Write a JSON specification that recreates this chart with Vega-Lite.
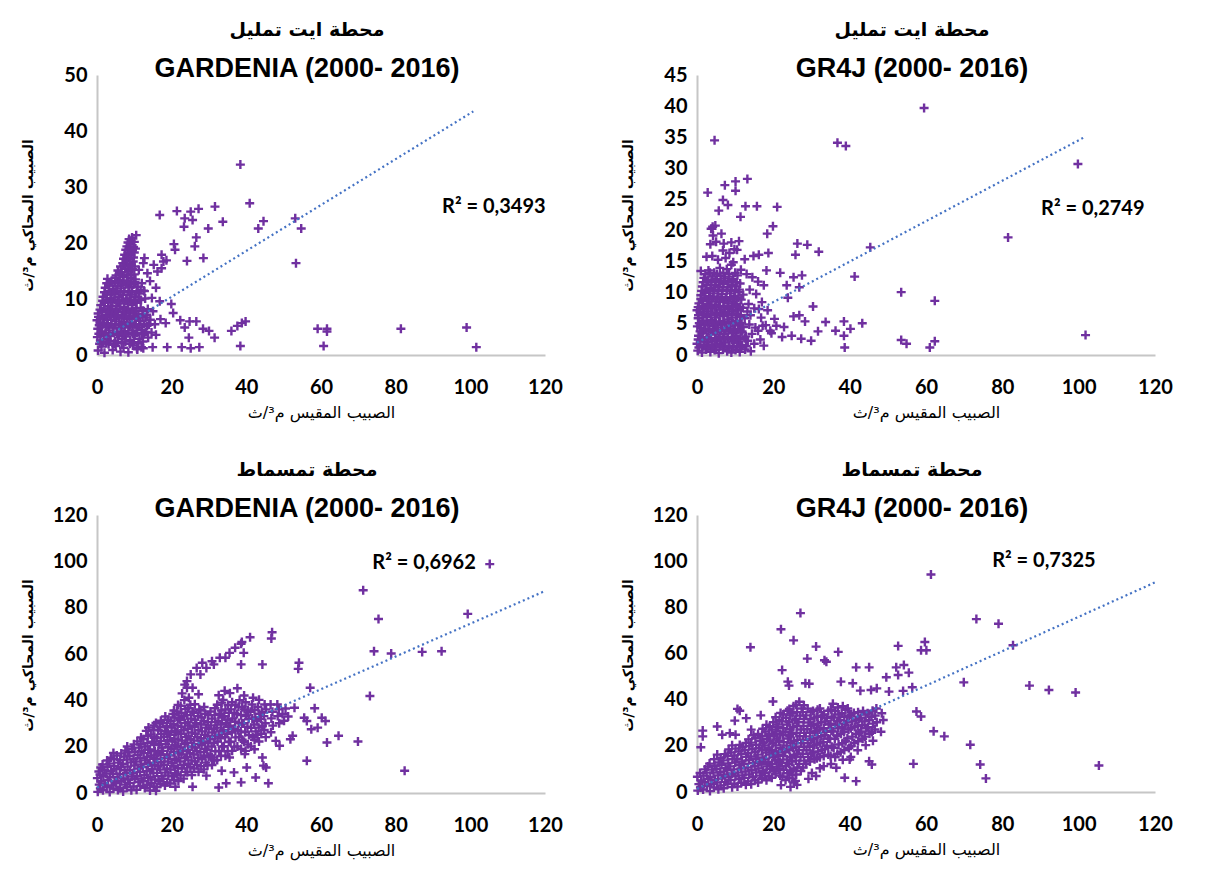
{
"$schema": "https://vega.github.io/schema/vega-lite/v6.json",
"background": "white",
"padding": {"left": 20, "top": 21, "right": 10, "bottom": 5},
"config": {
 "view": {"stroke": null},
 "axis": {"grid": false, "ticks": false, "domainColor": "#c6c6c6", "domainWidth": 2, "labelFont": "Lato", "labelFontSize": 20, "labelFontWeight": "bold", "labelColor": "#000", "labelOverlap": false, "labelFlush": false, "titleFont": "DejaVu Sans", "titleColor": "#000", "titleFontSize": 14},
 "axisX": {"labelPadding": 22, "titlePadding": 7, "titleFontWeight": "normal", "titleFontSize": 16},
 "axisY": {"labelPadding": 10, "titleFontWeight": "bold", "titleX": -62, "titleY": 140},
 "title": {"font": "DejaVu Sans", "fontSize": 19, "fontWeight": "bold", "color": "#000", "subtitleFont": "Liberation Sans", "subtitleFontSize": 27, "subtitleFontWeight": "bold", "subtitleColor": "#000", "subtitlePadding": 16, "offset": -17, "dx": -14}
},
"datasets": {
 "p1": [
  {"x":0.3,"y":0.8},{"x":1.2,"y":1.5},{"x":2.0,"y":0.4},{"x":3.1,"y":1.9},{"x":4.2,"y":0.9},{"x":5.0,"y":1.6},{"x":6.3,"y":0.6},{"x":7.1,"y":1.3},{"x":8.4,"y":0.5},{"x":9.6,"y":1.7},{"x":10.8,"y":1.0},{"x":11.9,"y":1.4},
  {"x":0.1,"y":3.2},{"x":0.9,"y":2.6},{"x":1.8,"y":3.5},{"x":2.7,"y":2.8},{"x":3.6,"y":3.4},{"x":4.8,"y":2.5},{"x":5.9,"y":3.6},{"x":6.8,"y":2.9},{"x":7.7,"y":3.3},{"x":8.9,"y":2.7},{"x":10.1,"y":3.5},{"x":11.4,"y":2.9},{"x":12.6,"y":3.8},{"x":13.7,"y":3.1},
  {"x":0.2,"y":4.7},{"x":1.1,"y":4.2},{"x":2.3,"y":5.0},{"x":3.2,"y":4.4},{"x":4.4,"y":4.9},{"x":5.3,"y":4.1},{"x":6.5,"y":4.8},{"x":7.4,"y":4.3},{"x":8.6,"y":5.1},{"x":9.5,"y":4.4},{"x":10.7,"y":4.9},{"x":12.0,"y":4.5},{"x":13.4,"y":5.2},{"x":14.6,"y":4.0},{"x":15.8,"y":3.6},
  {"x":0.0,"y":6.2},{"x":0.8,"y":5.8},{"x":1.9,"y":6.5},{"x":2.9,"y":5.7},{"x":3.8,"y":6.3},{"x":5.1,"y":6.0},{"x":6.0,"y":6.6},{"x":7.2,"y":5.9},{"x":8.1,"y":6.4},{"x":9.3,"y":5.8},{"x":10.4,"y":6.5},{"x":11.6,"y":6.1},{"x":13.0,"y":6.7},{"x":14.3,"y":6.3},{"x":15.5,"y":5.5},
  {"x":0.3,"y":7.4},{"x":1.4,"y":7.8},{"x":2.4,"y":7.2},{"x":3.5,"y":7.9},{"x":4.6,"y":7.3},{"x":5.6,"y":7.7},{"x":6.7,"y":7.1},{"x":7.8,"y":7.9},{"x":8.8,"y":7.4},{"x":9.9,"y":7.8},{"x":11.1,"y":7.3},{"x":12.3,"y":7.9},{"x":13.6,"y":8.2},
  {"x":1.0,"y":8.9},{"x":2.1,"y":9.3},{"x":3.0,"y":8.7},{"x":4.1,"y":9.4},{"x":5.2,"y":8.8},{"x":6.2,"y":9.2},{"x":7.3,"y":8.6},{"x":8.3,"y":9.5},{"x":9.4,"y":8.9},{"x":10.6,"y":9.3},{"x":11.8,"y":9.8},{"x":12.9,"y":10.1},
  {"x":1.6,"y":10.4},{"x":2.6,"y":10.8},{"x":3.7,"y":10.2},{"x":4.7,"y":10.9},{"x":5.8,"y":10.3},{"x":6.9,"y":10.7},{"x":7.9,"y":10.1},{"x":9.0,"y":10.8},{"x":10.2,"y":10.4},{"x":11.3,"y":11.0},{"x":12.5,"y":11.5},
  {"x":2.2,"y":12.0},{"x":3.3,"y":12.4},{"x":4.3,"y":11.8},{"x":5.5,"y":12.3},{"x":6.4,"y":11.9},{"x":7.6,"y":12.5},{"x":8.7,"y":12.1},{"x":9.8,"y":12.6},{"x":10.9,"y":12.2},{"x":12.0,"y":12.8},
  {"x":2.8,"y":13.6},{"x":3.9,"y":13.2},{"x":5.0,"y":13.8},{"x":6.1,"y":13.4},{"x":7.0,"y":13.9},{"x":8.2,"y":13.3},{"x":9.2,"y":13.7},{"x":10.3,"y":13.5},
  {"x":5.6,"y":15.1},{"x":6.6,"y":14.8},{"x":7.5,"y":15.4},{"x":8.5,"y":15.0},{"x":9.5,"y":15.3},
  {"x":6.9,"y":16.4},{"x":7.8,"y":16.8},{"x":8.8,"y":16.3},{"x":9.7,"y":16.7},
  {"x":7.4,"y":17.9},{"x":8.3,"y":18.2},{"x":9.1,"y":17.8},{"x":10.0,"y":18.3},
  {"x":8.0,"y":19.4},{"x":8.9,"y":19.8},{"x":9.8,"y":19.3},
  {"x":8.6,"y":20.7},{"x":9.4,"y":21.0},{"x":10.5,"y":21.4},
  {"x":0.7,"y":2.0},{"x":1.6,"y":2.3},{"x":2.5,"y":2.1},{"x":3.5,"y":2.4},{"x":4.6,"y":2.0},{"x":5.5,"y":2.3},{"x":6.6,"y":2.1},{"x":7.6,"y":2.4},{"x":8.8,"y":2.0},{"x":9.9,"y":2.3},{"x":11.1,"y":2.1},{"x":12.3,"y":2.4},
  {"x":0.5,"y":3.8},{"x":1.4,"y":4.0},{"x":2.4,"y":3.9},{"x":3.3,"y":3.7},{"x":4.3,"y":4.0},{"x":5.4,"y":3.8},{"x":6.4,"y":4.0},{"x":7.4,"y":3.7},{"x":8.4,"y":4.0},{"x":9.6,"y":3.8},{"x":10.7,"y":4.0},{"x":12.0,"y":3.8},{"x":13.1,"y":4.1},
  {"x":0.6,"y":5.3},{"x":1.5,"y":5.5},{"x":2.7,"y":5.3},{"x":3.8,"y":5.5},{"x":4.9,"y":5.3},{"x":5.9,"y":5.5},{"x":7.0,"y":5.3},{"x":8.0,"y":5.5},{"x":9.0,"y":5.3},{"x":10.1,"y":5.5},{"x":11.3,"y":5.3},{"x":12.6,"y":5.6},{"x":13.9,"y":5.4},
  {"x":0.4,"y":6.8},{"x":1.3,"y":7.0},{"x":2.4,"y":6.8},{"x":3.4,"y":7.0},{"x":4.5,"y":6.8},{"x":5.6,"y":7.0},{"x":6.6,"y":6.8},{"x":7.7,"y":7.0},{"x":8.7,"y":6.8},{"x":9.8,"y":7.0},{"x":11.0,"y":6.8},{"x":12.2,"y":7.0},{"x":13.3,"y":7.2},
  {"x":0.8,"y":8.1},{"x":1.9,"y":8.3},{"x":2.9,"y":8.1},{"x":4.0,"y":8.3},{"x":5.1,"y":8.1},{"x":6.2,"y":8.3},{"x":7.2,"y":8.1},{"x":8.3,"y":8.3},{"x":9.4,"y":8.1},{"x":10.5,"y":8.3},{"x":11.7,"y":8.4},
  {"x":1.5,"y":9.7},{"x":2.6,"y":9.9},{"x":3.6,"y":9.7},{"x":4.7,"y":9.9},{"x":5.7,"y":9.7},{"x":6.8,"y":9.9},{"x":7.8,"y":9.7},{"x":8.9,"y":9.9},{"x":10.0,"y":9.7},{"x":11.2,"y":9.9},
  {"x":2.0,"y":11.2},{"x":3.1,"y":11.4},{"x":4.1,"y":11.2},{"x":5.2,"y":11.4},{"x":6.3,"y":11.2},{"x":7.3,"y":11.4},{"x":8.4,"y":11.2},{"x":9.4,"y":11.4},{"x":10.6,"y":11.2},{"x":11.7,"y":11.6},
  {"x":2.6,"y":12.8},{"x":3.7,"y":13.0},{"x":4.8,"y":12.8},{"x":5.8,"y":13.0},{"x":6.9,"y":12.8},{"x":8.0,"y":13.0},{"x":9.1,"y":12.8},{"x":10.2,"y":13.0},
  {"x":5.1,"y":14.2},{"x":6.1,"y":14.4},{"x":7.1,"y":14.2},{"x":8.1,"y":14.4},{"x":9.1,"y":14.2},{"x":10.0,"y":14.4},
  {"x":6.3,"y":15.8},{"x":7.2,"y":16.0},{"x":8.2,"y":15.8},{"x":9.2,"y":16.0},{"x":10.1,"y":15.8},
  {"x":7.1,"y":17.2},{"x":8.0,"y":17.4},{"x":9.0,"y":17.2},{"x":9.8,"y":17.4},
  {"x":7.7,"y":18.8},{"x":8.6,"y":19.0},{"x":9.5,"y":18.8},{"x":10.3,"y":19.0},
  {"x":8.3,"y":20.1},{"x":9.1,"y":20.3},{"x":10.0,"y":20.2},
  {"x":12.7,"y":17.3},{"x":15.2,"y":16.1},{"x":17.3,"y":17.9},{"x":17.8,"y":16.7},{"x":16.2,"y":14.9},{"x":14.2,"y":13.2},{"x":12.7,"y":11.4},{"x":14.7,"y":10.2},{"x":15.8,"y":12.0},{"x":17.3,"y":15.5},{"x":18.6,"y":16.9},{"x":16.8,"y":9.6},{"x":13.5,"y":14.6},{"x":11.2,"y":15.2},{"x":15.0,"y":7.8},{"x":17.0,"y":6.4},{"x":12.4,"y":16.4},
  {"x":38.4,"y":34.0},{"x":40.9,"y":27.1},{"x":44.6,"y":23.9},{"x":43.2,"y":22.6},{"x":53.1,"y":24.4},{"x":54.7,"y":22.6},{"x":53.3,"y":16.4},{"x":16.8,"y":25.0},{"x":21.4,"y":25.7},{"x":25.1,"y":25.6},{"x":27.2,"y":26.1},{"x":31.6,"y":26.5},{"x":33.7,"y":23.8},{"x":23.5,"y":24.4},{"x":25.6,"y":24.1},{"x":23.3,"y":22.9},{"x":29.8,"y":22.6},{"x":26.6,"y":21.0},{"x":26.2,"y":19.4},{"x":20.6,"y":19.8},{"x":20.9,"y":18.8},{"x":24.1,"y":16.8},{"x":28.5,"y":17.3},{"x":19.9,"y":9.1},{"x":20.4,"y":7.5},{"x":22.3,"y":6.2},{"x":24.8,"y":6.0},{"x":26.6,"y":6.0},{"x":23.5,"y":4.9},{"x":28.4,"y":4.7},{"x":30.0,"y":4.3},{"x":31.5,"y":3.1},{"x":24.6,"y":3.1},{"x":18.4,"y":5.7},{"x":36.0,"y":4.3},{"x":37.6,"y":5.2},{"x":38.8,"y":5.7},{"x":39.8,"y":6.0},{"x":38.4,"y":1.6},{"x":14.9,"y":1.4},{"x":18.8,"y":1.4},{"x":22.7,"y":1.4},{"x":25.1,"y":1.2},{"x":27.4,"y":1.4},{"x":59.1,"y":4.7},{"x":61.6,"y":4.7},{"x":61.6,"y":4.2},{"x":60.7,"y":1.6},{"x":81.4,"y":4.7},{"x":99.0,"y":4.9},{"x":101.6,"y":1.4},{"x":10.7,"y":1.2},{"x":12.4,"y":1.2}
 ],
 "p2": [
  {"x":0.2,"y":0.7},{"x":1.3,"y":0.4},{"x":2.4,"y":0.9},{"x":3.5,"y":0.5},{"x":4.6,"y":0.8},{"x":5.7,"y":0.3},{"x":6.8,"y":0.9},{"x":7.9,"y":0.6},{"x":9.0,"y":0.4},{"x":10.1,"y":0.8},{"x":11.2,"y":0.5},{"x":12.6,"y":0.9},{"x":14.1,"y":0.6},
  {"x":0.0,"y":1.8},{"x":0.9,"y":2.2},{"x":2.0,"y":1.6},{"x":3.0,"y":2.1},{"x":4.1,"y":1.7},{"x":5.2,"y":2.3},{"x":6.3,"y":1.8},{"x":7.4,"y":2.0},{"x":8.5,"y":1.5},{"x":9.6,"y":2.2},{"x":10.7,"y":1.9},{"x":11.8,"y":1.6},{"x":13.3,"y":2.3},{"x":15.0,"y":1.8},{"x":16.6,"y":2.5},
  {"x":0.4,"y":3.1},{"x":1.5,"y":3.5},{"x":2.6,"y":2.9},{"x":3.7,"y":3.3},{"x":4.8,"y":3.6},{"x":5.9,"y":3.0},{"x":7.0,"y":3.4},{"x":8.1,"y":2.9},{"x":9.2,"y":3.5},{"x":10.3,"y":3.1},{"x":11.4,"y":3.6},{"x":12.8,"y":3.0},{"x":14.4,"y":3.4},{"x":16.0,"y":3.9},
  {"x":0.1,"y":4.6},{"x":1.1,"y":4.3},{"x":2.2,"y":4.8},{"x":3.3,"y":4.2},{"x":4.4,"y":4.7},{"x":5.5,"y":4.4},{"x":6.6,"y":4.9},{"x":7.7,"y":4.3},{"x":8.8,"y":4.6},{"x":9.9,"y":4.2},{"x":11.0,"y":4.8},{"x":12.2,"y":4.5},{"x":13.7,"y":4.9},{"x":15.3,"y":4.4},
  {"x":0.3,"y":5.9},{"x":1.4,"y":5.5},{"x":2.5,"y":6.1},{"x":3.6,"y":5.6},{"x":4.7,"y":6.0},{"x":5.8,"y":5.4},{"x":6.9,"y":6.2},{"x":8.0,"y":5.7},{"x":9.1,"y":6.0},{"x":10.2,"y":5.5},{"x":11.3,"y":6.1},{"x":12.5,"y":5.9},{"x":14.0,"y":6.4},
  {"x":0.0,"y":7.2},{"x":0.8,"y":6.9},{"x":1.9,"y":7.4},{"x":3.0,"y":7.0},{"x":4.1,"y":7.5},{"x":5.2,"y":6.8},{"x":6.3,"y":7.3},{"x":7.4,"y":6.9},{"x":8.5,"y":7.4},{"x":9.6,"y":7.0},{"x":10.7,"y":7.2},{"x":12.0,"y":7.6},{"x":13.2,"y":7.0},
  {"x":0.5,"y":8.3},{"x":1.6,"y":8.7},{"x":2.7,"y":8.2},{"x":3.8,"y":8.6},{"x":4.9,"y":8.1},{"x":6.0,"y":8.5},{"x":7.1,"y":8.8},{"x":8.2,"y":8.3},{"x":9.3,"y":8.6},{"x":10.4,"y":8.2},{"x":11.6,"y":8.9},
  {"x":1.0,"y":9.6},{"x":2.1,"y":10.0},{"x":3.2,"y":9.5},{"x":4.3,"y":9.9},{"x":5.4,"y":9.4},{"x":6.5,"y":9.8},{"x":7.6,"y":9.3},{"x":8.7,"y":9.9},{"x":9.8,"y":9.5},{"x":10.9,"y":10.1},{"x":12.1,"y":9.7},
  {"x":1.4,"y":11.0},{"x":2.5,"y":11.3},{"x":3.6,"y":10.8},{"x":4.7,"y":11.2},{"x":5.8,"y":10.9},{"x":6.9,"y":11.4},{"x":8.0,"y":10.9},{"x":9.1,"y":11.3},{"x":10.2,"y":11.0},{"x":11.3,"y":11.5},
  {"x":1.8,"y":12.4},{"x":2.9,"y":12.1},{"x":4.0,"y":12.6},{"x":5.1,"y":12.2},{"x":6.2,"y":12.7},{"x":7.3,"y":12.3},{"x":8.4,"y":12.6},{"x":9.5,"y":12.2},{"x":10.6,"y":12.8},
  {"x":0.5,"y":1.2},{"x":1.7,"y":1.4},{"x":2.8,"y":1.2},{"x":3.9,"y":1.4},{"x":5.0,"y":1.2},{"x":6.1,"y":1.4},{"x":7.2,"y":1.2},{"x":8.3,"y":1.4},{"x":9.4,"y":1.2},{"x":10.5,"y":1.4},{"x":11.6,"y":1.2},{"x":12.9,"y":1.4},
  {"x":0.3,"y":2.5},{"x":1.4,"y":2.7},{"x":2.5,"y":2.5},{"x":3.6,"y":2.7},{"x":4.7,"y":2.5},{"x":5.8,"y":2.7},{"x":6.9,"y":2.5},{"x":8.0,"y":2.7},{"x":9.1,"y":2.5},{"x":10.2,"y":2.7},{"x":11.3,"y":2.5},{"x":12.5,"y":2.7},
  {"x":0.8,"y":3.8},{"x":1.9,"y":4.0},{"x":3.0,"y":3.8},{"x":4.1,"y":4.0},{"x":5.2,"y":3.8},{"x":6.3,"y":4.0},{"x":7.4,"y":3.8},{"x":8.5,"y":4.0},{"x":9.6,"y":3.8},{"x":10.7,"y":4.0},{"x":11.8,"y":3.8},
  {"x":0.6,"y":5.1},{"x":1.7,"y":5.3},{"x":2.8,"y":5.1},{"x":3.9,"y":5.3},{"x":5.0,"y":5.1},{"x":6.1,"y":5.3},{"x":7.2,"y":5.1},{"x":8.3,"y":5.3},{"x":9.4,"y":5.1},{"x":10.5,"y":5.3},{"x":11.7,"y":5.1},
  {"x":0.4,"y":6.4},{"x":1.5,"y":6.6},{"x":2.6,"y":6.4},{"x":3.7,"y":6.6},{"x":4.8,"y":6.4},{"x":5.9,"y":6.6},{"x":7.0,"y":6.4},{"x":8.1,"y":6.6},{"x":9.2,"y":6.4},{"x":10.3,"y":6.6},{"x":11.5,"y":6.4},
  {"x":0.3,"y":7.7},{"x":1.4,"y":7.9},{"x":2.5,"y":7.7},{"x":3.6,"y":7.9},{"x":4.7,"y":7.7},{"x":5.8,"y":7.9},{"x":6.9,"y":7.7},{"x":8.0,"y":7.9},{"x":9.1,"y":7.7},{"x":10.2,"y":7.9},{"x":11.3,"y":7.7},
  {"x":1.0,"y":9.0},{"x":2.1,"y":9.2},{"x":3.2,"y":9.0},{"x":4.3,"y":9.2},{"x":5.4,"y":9.0},{"x":6.5,"y":9.2},{"x":7.6,"y":9.0},{"x":8.7,"y":9.2},{"x":9.8,"y":9.0},{"x":10.9,"y":9.2},
  {"x":1.2,"y":10.3},{"x":2.3,"y":10.5},{"x":3.4,"y":10.3},{"x":4.5,"y":10.5},{"x":5.6,"y":10.3},{"x":6.7,"y":10.5},{"x":7.8,"y":10.3},{"x":8.9,"y":10.5},{"x":10.0,"y":10.3},{"x":11.1,"y":10.5},
  {"x":1.6,"y":11.7},{"x":2.7,"y":11.9},{"x":3.8,"y":11.7},{"x":4.9,"y":11.9},{"x":6.0,"y":11.7},{"x":7.1,"y":11.9},{"x":8.2,"y":11.7},{"x":9.3,"y":11.9},{"x":10.4,"y":11.7},
  {"x":2.2,"y":13.0},{"x":3.4,"y":13.2},{"x":5.2,"y":13.0},{"x":6.9,"y":13.2},{"x":8.4,"y":13.0},{"x":10.0,"y":13.2},
  {"x":1.0,"y":13.5},{"x":3.0,"y":13.6},{"x":4.5,"y":13.2},{"x":6.0,"y":14.0},{"x":7.8,"y":13.8},{"x":9.0,"y":14.5},{"x":11.5,"y":13.7},{"x":2.5,"y":15.8},{"x":4.0,"y":15.9},{"x":5.5,"y":15.3},{"x":7.5,"y":15.6},{"x":9.5,"y":14.9},{"x":6.8,"y":16.8},{"x":8.5,"y":16.4},{"x":10.5,"y":16.9},{"x":3.5,"y":17.8},{"x":5.0,"y":18.2},{"x":7.0,"y":17.9},{"x":9.0,"y":18.1},{"x":11.0,"y":18.3},{"x":4.2,"y":19.2},{"x":6.4,"y":19.5},{"x":3.7,"y":20.3},{"x":4.8,"y":20.8},{"x":9.8,"y":17.0},{"x":12.5,"y":15.4},{"x":14.8,"y":15.9},{"x":16.2,"y":16.1},{"x":13.0,"y":13.0},{"x":14.5,"y":12.5},{"x":16.0,"y":11.8},{"x":17.5,"y":11.2},{"x":13.8,"y":10.5},{"x":15.5,"y":9.8},{"x":17.0,"y":8.5},{"x":18.5,"y":7.2},{"x":16.8,"y":6.0},{"x":18.0,"y":4.8},{"x":19.5,"y":3.5},{"x":17.5,"y":1.5},{"x":13.5,"y":8.2},{"x":15.0,"y":7.5},
  {"x":59.5,"y":39.7},{"x":4.6,"y":34.5},{"x":36.8,"y":34.1},{"x":39.0,"y":33.6},{"x":99.8,"y":30.7},{"x":13.2,"y":28.3},{"x":7.3,"y":27.3},{"x":10.1,"y":27.9},{"x":10.1,"y":26.4},{"x":2.8,"y":26.1},{"x":6.8,"y":24.9},{"x":8.1,"y":24.1},{"x":12.7,"y":23.9},{"x":15.7,"y":23.9},{"x":21.0,"y":23.8},{"x":5.7,"y":23.2},{"x":11.4,"y":22.2},{"x":19.9,"y":20.7},{"x":4.1,"y":20.6},{"x":18.4,"y":19.5},{"x":26.3,"y":17.9},{"x":28.9,"y":17.7},{"x":45.4,"y":17.3},{"x":31.9,"y":16.6},{"x":25.8,"y":16.1},{"x":81.5,"y":18.9},{"x":41.3,"y":12.6},{"x":53.5,"y":10.1},{"x":62.3,"y":8.7},{"x":101.8,"y":3.2},{"x":53.5,"y":2.4},{"x":54.9,"y":1.8},{"x":61.0,"y":1.2},{"x":62.3,"y":2.2},{"x":38.7,"y":1.2},{"x":30.4,"y":7.8},{"x":23.8,"y":9.2},{"x":23.5,"y":11.2},{"x":25.3,"y":12.5},{"x":27.5,"y":12.8},{"x":21.8,"y":13.2},{"x":18.2,"y":13.6},{"x":18.7,"y":16.4},{"x":26.8,"y":10.9},{"x":25.3,"y":6.2},{"x":26.8,"y":6.4},{"x":28.3,"y":5.4},{"x":33.7,"y":5.3},{"x":38.5,"y":5.4},{"x":43.3,"y":5.1},{"x":31.7,"y":3.8},{"x":36.3,"y":3.9},{"x":40.2,"y":4.2},{"x":38.5,"y":3.1},{"x":29.9,"y":2.3},{"x":27.3,"y":2.6},{"x":24.8,"y":3.1},{"x":22.3,"y":2.9},{"x":20.3,"y":5.8},{"x":20.8,"y":4.7},{"x":22.8,"y":4.5},{"x":17.2,"y":4.7},{"x":19.2,"y":3.9},{"x":16.2,"y":7.4}
 ],
 "p3": [
  {"x":0.2,"y":0.5},{"x":0.6,"y":3.6},{"x":0.1,"y":6.4},{"x":0.5,"y":9.3},
  {"x":1.6,"y":1.2},{"x":2.1,"y":4.1},{"x":1.7,"y":7.2},{"x":2.0,"y":9.8},{"x":1.5,"y":12.3},
  {"x":3.4,"y":0.4},{"x":3.9,"y":3.3},{"x":3.5,"y":6.8},{"x":3.8,"y":9.6},{"x":3.3,"y":12.7},{"x":3.7,"y":15.2},
  {"x":5.6,"y":1.3},{"x":5.1,"y":4.2},{"x":5.5,"y":6.9},{"x":5.2,"y":10.3},{"x":5.7,"y":13.1},{"x":5.3,"y":16.2},
  {"x":7.0,"y":0.7},{"x":7.5,"y":3.6},{"x":7.1,"y":6.3},{"x":7.4,"y":9.8},{"x":6.9,"y":12.6},{"x":7.3,"y":15.7},{"x":7.6,"y":18.3},
  {"x":9.2,"y":1.2},{"x":8.8,"y":4.3},{"x":9.3,"y":7.1},{"x":8.9,"y":9.8},{"x":9.1,"y":13.2},{"x":8.7,"y":16.1},{"x":9.4,"y":19.0},
  {"x":10.6,"y":1.4},{"x":11.1,"y":4.7},{"x":10.7,"y":7.3},{"x":11.0,"y":10.6},{"x":10.5,"y":13.6},{"x":10.9,"y":16.4},{"x":11.2,"y":19.6},{"x":10.8,"y":22.3},
  {"x":12.8,"y":2.2},{"x":12.4,"y":5.1},{"x":12.7,"y":7.8},{"x":12.3,"y":11.2},{"x":12.9,"y":14.1},{"x":12.5,"y":17.2},{"x":12.8,"y":20.1},{"x":12.4,"y":23.2},
  {"x":14.2,"y":1.1},{"x":14.6,"y":4.2},{"x":14.3,"y":6.8},{"x":14.7,"y":10.3},{"x":14.1,"y":13.1},{"x":14.5,"y":16.2},{"x":14.2,"y":18.8},{"x":14.8,"y":22.1},{"x":14.4,"y":25.2},{"x":13.8,"y":28.3},
  {"x":16.0,"y":2.6},{"x":16.5,"y":5.3},{"x":16.1,"y":8.7},{"x":16.4,"y":11.4},{"x":15.9,"y":14.6},{"x":16.3,"y":17.3},{"x":16.6,"y":20.7},{"x":16.0,"y":23.6},{"x":16.4,"y":27.1},{"x":15.8,"y":30.2},
  {"x":18.2,"y":3.2},{"x":17.8,"y":6.1},{"x":18.3,"y":8.8},{"x":17.9,"y":12.2},{"x":18.1,"y":15.1},{"x":17.7,"y":18.2},{"x":18.4,"y":21.1},{"x":17.9,"y":24.2},{"x":18.2,"y":26.8},{"x":17.6,"y":30.1},{"x":18.3,"y":33.0},
  {"x":19.6,"y":4.1},{"x":20.1,"y":7.2},{"x":19.7,"y":10.1},{"x":20.0,"y":12.8},{"x":19.5,"y":16.2},{"x":19.9,"y":19.1},{"x":20.2,"y":22.2},{"x":19.6,"y":25.1},{"x":20.0,"y":28.2},{"x":19.7,"y":31.1},{"x":20.3,"y":34.1},
  {"x":21.8,"y":5.2},{"x":21.4,"y":8.1},{"x":21.7,"y":10.8},{"x":21.3,"y":14.2},{"x":21.9,"y":17.1},{"x":21.5,"y":20.2},{"x":21.8,"y":23.1},{"x":21.2,"y":26.2},{"x":21.6,"y":29.1},{"x":21.9,"y":32.3},{"x":21.4,"y":35.2},{"x":21.7,"y":38.0},
  {"x":23.2,"y":6.2},{"x":23.7,"y":9.1},{"x":23.3,"y":12.2},{"x":23.6,"y":15.0},{"x":23.1,"y":18.2},{"x":23.5,"y":21.1},{"x":23.8,"y":24.2},{"x":23.2,"y":27.1},{"x":23.6,"y":30.2},{"x":23.3,"y":33.1},{"x":23.7,"y":36.2},{"x":23.4,"y":40.1},
  {"x":25.4,"y":7.8},{"x":25.0,"y":11.2},{"x":25.3,"y":14.1},{"x":24.9,"y":17.2},{"x":25.5,"y":20.1},{"x":25.1,"y":23.2},{"x":25.4,"y":26.1},{"x":24.8,"y":29.2},{"x":25.2,"y":32.1},{"x":25.6,"y":35.2},{"x":25.0,"y":38.1},
  {"x":27.2,"y":9.2},{"x":26.8,"y":12.1},{"x":27.1,"y":15.2},{"x":26.7,"y":18.1},{"x":27.3,"y":21.2},{"x":26.9,"y":24.1},{"x":27.2,"y":27.2},{"x":26.6,"y":30.1},{"x":27.0,"y":33.2},{"x":27.4,"y":36.1},
  {"x":28.6,"y":10.2},{"x":29.1,"y":13.1},{"x":28.7,"y":16.2},{"x":29.0,"y":19.1},{"x":28.5,"y":22.2},{"x":28.9,"y":25.1},{"x":29.2,"y":28.2},{"x":28.6,"y":31.1},{"x":29.0,"y":34.2},{"x":28.7,"y":37.1},
  {"x":30.8,"y":12.1},{"x":30.4,"y":16.2},{"x":30.7,"y":20.1},{"x":30.3,"y":23.2},{"x":30.9,"y":26.1},{"x":30.5,"y":29.2},{"x":30.8,"y":32.1},{"x":30.4,"y":35.2},
  {"x":32.2,"y":14.2},{"x":32.7,"y":18.1},{"x":32.3,"y":22.2},{"x":32.6,"y":25.1},{"x":32.1,"y":28.2},{"x":32.5,"y":31.1},{"x":32.8,"y":34.2},{"x":32.2,"y":38.1},{"x":32.6,"y":42.2},
  {"x":34.4,"y":16.1},{"x":34.0,"y":20.2},{"x":34.3,"y":24.1},{"x":33.9,"y":27.2},{"x":34.5,"y":30.1},{"x":34.1,"y":33.2},{"x":34.4,"y":36.1},{"x":33.8,"y":40.2},{"x":34.2,"y":44.1},
  {"x":36.2,"y":18.2},{"x":35.8,"y":22.1},{"x":36.1,"y":26.2},{"x":35.7,"y":29.1},{"x":36.3,"y":32.2},{"x":35.9,"y":36.1},{"x":36.2,"y":39.2},{"x":35.6,"y":43.1},
  {"x":37.6,"y":20.1},{"x":38.1,"y":24.2},{"x":37.7,"y":27.1},{"x":38.0,"y":30.2},{"x":37.5,"y":34.1},{"x":37.9,"y":37.2},{"x":38.2,"y":40.1},{"x":37.6,"y":45.2},
  {"x":39.8,"y":18.2},{"x":39.4,"y":22.1},{"x":39.7,"y":26.2},{"x":39.3,"y":30.1},{"x":39.9,"y":33.2},{"x":39.5,"y":36.1},{"x":39.8,"y":39.2},{"x":39.4,"y":42.1},
  {"x":41.2,"y":20.1},{"x":41.7,"y":24.2},{"x":41.3,"y":28.1},{"x":41.6,"y":32.2},{"x":41.1,"y":35.1},{"x":41.5,"y":38.2},{"x":41.8,"y":41.1},
  {"x":43.4,"y":22.2},{"x":43.0,"y":25.1},{"x":43.3,"y":28.2},{"x":42.9,"y":31.1},{"x":43.5,"y":34.2},{"x":43.1,"y":37.1},{"x":43.4,"y":40.2},
  {"x":45.2,"y":24.1},{"x":44.8,"y":27.2},{"x":45.1,"y":30.1},{"x":44.7,"y":33.2},{"x":45.3,"y":36.1},{"x":44.9,"y":38.2},
  {"x":46.6,"y":26.2},{"x":47.1,"y":29.1},{"x":46.7,"y":32.2},{"x":47.0,"y":35.1},{"x":46.5,"y":38.2},
  {"x":48.8,"y":30.1},{"x":48.4,"y":33.2},{"x":48.7,"y":36.1},{"x":48.3,"y":38.2},
  {"x":50.1,"y":31.2},{"x":49.7,"y":34.1},
  {"x":0.9,"y":2.0},{"x":1.1,"y":5.1},{"x":0.8,"y":8.0},{"x":1.0,"y":11.0},
  {"x":2.6,"y":2.6},{"x":2.9,"y":5.6},{"x":2.5,"y":8.4},{"x":2.8,"y":11.2},{"x":2.7,"y":14.0},
  {"x":4.4,"y":1.9},{"x":4.7,"y":5.0},{"x":4.3,"y":8.3},{"x":4.6,"y":11.6},{"x":4.5,"y":14.6},{"x":4.4,"y":17.3},
  {"x":6.2,"y":2.2},{"x":6.5,"y":5.3},{"x":6.1,"y":8.2},{"x":6.4,"y":11.2},{"x":6.2,"y":14.3},{"x":6.5,"y":17.1},
  {"x":8.0,"y":2.5},{"x":8.3,"y":5.8},{"x":7.9,"y":8.5},{"x":8.2,"y":11.4},{"x":8.0,"y":14.4},{"x":8.3,"y":17.6},{"x":8.1,"y":20.1},
  {"x":9.8,"y":2.8},{"x":10.1,"y":6.0},{"x":9.7,"y":8.6},{"x":10.0,"y":11.9},{"x":9.8,"y":14.8},{"x":10.1,"y":17.8},{"x":9.9,"y":21.0},
  {"x":11.6,"y":3.0},{"x":11.9,"y":6.2},{"x":11.5,"y":9.1},{"x":11.8,"y":12.3},{"x":11.6,"y":15.0},{"x":11.9,"y":18.0},{"x":11.7,"y":21.2},{"x":11.8,"y":24.0},
  {"x":13.4,"y":3.4},{"x":13.7,"y":6.4},{"x":13.3,"y":9.4},{"x":13.6,"y":12.6},{"x":13.4,"y":15.6},{"x":13.7,"y":18.6},{"x":13.5,"y":21.6},{"x":13.6,"y":24.6},{"x":13.2,"y":26.8},
  {"x":15.2,"y":2.8},{"x":15.5,"y":5.8},{"x":15.1,"y":8.6},{"x":15.4,"y":12.0},{"x":15.2,"y":15.2},{"x":15.5,"y":18.0},{"x":15.3,"y":21.2},{"x":15.4,"y":24.3},{"x":15.1,"y":27.2},{"x":15.3,"y":29.2},
  {"x":17.0,"y":4.0},{"x":17.3,"y":7.2},{"x":16.9,"y":10.1},{"x":17.2,"y":13.3},{"x":17.0,"y":16.4},{"x":17.3,"y":19.6},{"x":17.1,"y":22.4},{"x":17.2,"y":25.5},{"x":16.9,"y":28.4},{"x":17.1,"y":31.2},
  {"x":18.8,"y":4.6},{"x":19.1,"y":7.6},{"x":18.7,"y":10.6},{"x":19.0,"y":13.6},{"x":18.8,"y":16.6},{"x":19.1,"y":19.8},{"x":18.9,"y":22.8},{"x":19.0,"y":25.8},{"x":18.7,"y":28.8},{"x":19.0,"y":31.6},
  {"x":20.6,"y":5.6},{"x":20.9,"y":8.6},{"x":20.5,"y":11.6},{"x":20.8,"y":14.8},{"x":20.6,"y":17.8},{"x":20.9,"y":20.6},{"x":20.7,"y":23.6},{"x":20.8,"y":26.8},{"x":20.5,"y":29.8},{"x":20.8,"y":32.6},{"x":20.6,"y":35.6},
  {"x":22.4,"y":7.6},{"x":22.7,"y":10.6},{"x":22.3,"y":13.6},{"x":22.6,"y":16.6},{"x":22.4,"y":19.6},{"x":22.7,"y":22.6},{"x":22.5,"y":25.6},{"x":22.6,"y":28.6},{"x":22.3,"y":31.6},{"x":22.6,"y":34.6},{"x":22.4,"y":37.6},
  {"x":24.2,"y":9.0},{"x":24.5,"y":12.6},{"x":24.1,"y":15.6},{"x":24.4,"y":18.6},{"x":24.2,"y":21.6},{"x":24.5,"y":24.6},{"x":24.3,"y":27.6},{"x":24.4,"y":30.6},{"x":24.1,"y":33.6},{"x":24.4,"y":36.6},
  {"x":26.0,"y":10.6},{"x":26.3,"y":13.6},{"x":25.9,"y":16.6},{"x":26.2,"y":19.6},{"x":26.0,"y":22.6},{"x":26.3,"y":25.6},{"x":26.1,"y":28.6},{"x":26.2,"y":31.6},{"x":25.9,"y":34.6},
  {"x":27.8,"y":11.6},{"x":28.1,"y":14.6},{"x":27.7,"y":17.6},{"x":28.0,"y":20.6},{"x":27.8,"y":23.6},{"x":28.1,"y":26.6},{"x":27.9,"y":29.6},{"x":28.0,"y":32.6},{"x":27.7,"y":35.6},
  {"x":29.6,"y":12.0},{"x":29.9,"y":15.6},{"x":29.5,"y":18.6},{"x":29.8,"y":21.6},{"x":29.6,"y":24.6},{"x":29.9,"y":27.6},{"x":29.7,"y":30.6},{"x":29.8,"y":33.6},
  {"x":31.4,"y":14.0},{"x":31.7,"y":18.0},{"x":31.3,"y":21.6},{"x":31.6,"y":24.6},{"x":31.4,"y":27.6},{"x":31.7,"y":30.6},{"x":31.5,"y":33.6},{"x":31.6,"y":36.6},
  {"x":33.2,"y":16.0},{"x":33.5,"y":20.0},{"x":33.1,"y":23.6},{"x":33.4,"y":26.6},{"x":33.2,"y":29.6},{"x":33.5,"y":32.6},{"x":33.3,"y":35.6},{"x":33.4,"y":39.0},
  {"x":35.0,"y":18.0},{"x":35.3,"y":22.0},{"x":34.9,"y":25.6},{"x":35.2,"y":28.6},{"x":35.0,"y":31.6},{"x":35.3,"y":34.6},{"x":35.1,"y":38.0},
  {"x":36.8,"y":20.0},{"x":37.1,"y":24.0},{"x":36.7,"y":27.6},{"x":37.0,"y":30.8},{"x":36.8,"y":34.6},{"x":37.1,"y":38.0},
  {"x":38.6,"y":19.0},{"x":38.9,"y":23.0},{"x":38.5,"y":26.6},{"x":38.8,"y":30.0},{"x":38.6,"y":33.6},{"x":38.9,"y":37.0},
  {"x":40.4,"y":21.0},{"x":40.7,"y":25.0},{"x":40.3,"y":28.6},{"x":40.6,"y":32.0},{"x":40.4,"y":35.6},
  {"x":42.2,"y":23.0},{"x":42.5,"y":26.6},{"x":42.1,"y":29.6},{"x":42.4,"y":32.6},{"x":42.2,"y":35.8},
  {"x":44.0,"y":25.6},{"x":44.3,"y":29.0},{"x":43.9,"y":32.0},{"x":44.2,"y":35.0},
  {"x":24.1,"y":48.3},{"x":25.1,"y":51.2},{"x":26.7,"y":54.0},{"x":28.2,"y":56.2},{"x":30.8,"y":56.9},{"x":32.9,"y":58.4},{"x":35.5,"y":60.5},{"x":37.0,"y":62.7},{"x":38.6,"y":64.4},{"x":25.6,"y":45.4},{"x":24.1,"y":45.4},{"x":27.2,"y":42.6},{"x":24.6,"y":41.1},{"x":26.2,"y":38.3},{"x":29.3,"y":54.0},{"x":31.3,"y":55.5},{"x":27.7,"y":51.2},{"x":34.4,"y":58.4},{"x":22.8,"y":43.0},{"x":23.5,"y":46.8},
  {"x":105.2,"y":98.8},{"x":71.3,"y":87.5},{"x":75.4,"y":75.1},{"x":99.3,"y":77.3},{"x":74.2,"y":61.2},{"x":78.8,"y":60.2},{"x":87.1,"y":60.9},{"x":92.3,"y":61.2},{"x":73.1,"y":41.9},{"x":69.9,"y":22.2},{"x":64.7,"y":24.7},{"x":61.6,"y":21.8},{"x":56.2,"y":13.9},{"x":82.4,"y":9.6},{"x":54.1,"y":56.2},{"x":53.9,"y":53.6},{"x":46.9,"y":69.4},{"x":46.7,"y":66.7},{"x":44.3,"y":55.5},{"x":38.6,"y":55.5},{"x":41.0,"y":67.2},{"x":38.8,"y":65.2},{"x":39.3,"y":60.5},{"x":57.1,"y":45.4},{"x":58.3,"y":36.6},{"x":55.5,"y":32.5},{"x":59.1,"y":28.2},{"x":57.4,"y":27.5},{"x":60.2,"y":32.5},{"x":61.2,"y":31.1},{"x":52.9,"y":36.8},{"x":52.4,"y":24.7},{"x":51.8,"y":23.2},{"x":47.9,"y":22.5},{"x":48.9,"y":20.4},{"x":56.2,"y":31.1},{"x":45.9,"y":4.2},{"x":32.6,"y":2.4},{"x":34.6,"y":4.2},{"x":38.6,"y":4.6},{"x":42.5,"y":6.7},{"x":40.1,"y":11.0},{"x":44.6,"y":11.8},{"x":45.3,"y":11.0},{"x":36.7,"y":8.9},{"x":33.4,"y":9.6},{"x":30.8,"y":15.3},{"x":35.5,"y":15.3},{"x":39.6,"y":16.8},{"x":44.3,"y":15.3},{"x":42.2,"y":18.9},{"x":29.3,"y":7.5},{"x":25.6,"y":2.7},{"x":21.0,"y":2.7},{"x":15.8,"y":1.0},{"x":50.5,"y":36.5},{"x":51.2,"y":33.0}
 ],
 "p4": [
  {"x":0.2,"y":0.6},{"x":0.5,"y":3.4},{"x":0.1,"y":6.6},
  {"x":1.6,"y":1.1},{"x":2.0,"y":4.2},{"x":1.7,"y":7.1},{"x":2.1,"y":9.8},
  {"x":3.4,"y":0.4},{"x":3.8,"y":3.6},{"x":3.5,"y":6.4},{"x":3.9,"y":9.7},{"x":3.3,"y":12.3},
  {"x":5.6,"y":1.2},{"x":5.2,"y":4.1},{"x":5.5,"y":7.2},{"x":5.1,"y":10.1},{"x":5.7,"y":12.8},{"x":5.3,"y":16.2},
  {"x":7.0,"y":1.6},{"x":7.4,"y":4.4},{"x":7.1,"y":7.6},{"x":7.5,"y":10.4},{"x":6.9,"y":13.7},{"x":7.3,"y":16.4},
  {"x":9.2,"y":2.1},{"x":8.8,"y":5.2},{"x":9.1,"y":7.9},{"x":8.7,"y":11.1},{"x":9.3,"y":14.2},{"x":8.9,"y":17.1},{"x":9.2,"y":20.2},
  {"x":10.6,"y":2.4},{"x":11.0,"y":5.6},{"x":10.7,"y":8.4},{"x":11.1,"y":11.6},{"x":10.5,"y":14.4},{"x":10.9,"y":17.6},{"x":11.2,"y":20.4},
  {"x":12.8,"y":3.1},{"x":12.4,"y":6.1},{"x":12.7,"y":8.9},{"x":12.3,"y":12.1},{"x":12.9,"y":15.2},{"x":12.5,"y":18.1},{"x":12.8,"y":21.2},
  {"x":14.2,"y":3.4},{"x":14.6,"y":6.6},{"x":14.3,"y":9.4},{"x":14.7,"y":12.6},{"x":14.1,"y":15.4},{"x":14.5,"y":18.6},{"x":14.2,"y":21.4},{"x":14.8,"y":24.6},
  {"x":16.0,"y":4.1},{"x":16.5,"y":7.1},{"x":16.1,"y":10.2},{"x":16.4,"y":13.1},{"x":15.9,"y":16.2},{"x":16.3,"y":19.1},{"x":16.6,"y":22.2},{"x":16.0,"y":25.1},
  {"x":18.2,"y":5.1},{"x":17.8,"y":8.2},{"x":18.3,"y":11.1},{"x":17.9,"y":14.2},{"x":18.1,"y":17.1},{"x":17.7,"y":20.2},{"x":18.4,"y":23.1},{"x":17.9,"y":26.2},{"x":18.2,"y":29.1},
  {"x":19.6,"y":6.2},{"x":20.1,"y":9.1},{"x":19.7,"y":12.2},{"x":20.0,"y":15.1},{"x":19.5,"y":18.2},{"x":19.9,"y":21.1},{"x":20.2,"y":24.2},{"x":19.6,"y":27.1},{"x":20.0,"y":30.2},
  {"x":21.8,"y":7.1},{"x":21.4,"y":10.2},{"x":21.7,"y":13.1},{"x":21.3,"y":16.2},{"x":21.9,"y":19.1},{"x":21.5,"y":22.2},{"x":21.8,"y":25.1},{"x":21.2,"y":28.2},{"x":21.6,"y":31.1},{"x":21.9,"y":34.2},
  {"x":23.2,"y":5.2},{"x":23.7,"y":8.1},{"x":23.3,"y":11.2},{"x":23.6,"y":14.1},{"x":23.1,"y":17.2},{"x":23.5,"y":20.1},{"x":23.8,"y":23.2},{"x":23.2,"y":26.1},{"x":23.6,"y":29.2},{"x":23.3,"y":32.1},{"x":23.7,"y":35.2},
  {"x":25.4,"y":4.1},{"x":25.0,"y":7.2},{"x":25.3,"y":10.1},{"x":24.9,"y":13.2},{"x":25.5,"y":16.1},{"x":25.1,"y":19.2},{"x":25.4,"y":22.1},{"x":24.8,"y":25.2},{"x":25.2,"y":28.1},{"x":25.6,"y":31.2},{"x":25.0,"y":34.1},{"x":25.3,"y":37.2},
  {"x":27.2,"y":9.1},{"x":26.8,"y":12.2},{"x":27.1,"y":15.1},{"x":26.7,"y":18.2},{"x":27.3,"y":21.1},{"x":26.9,"y":24.2},{"x":27.2,"y":27.1},{"x":26.6,"y":30.2},{"x":27.0,"y":33.1},{"x":27.4,"y":36.2},{"x":26.8,"y":39.1},
  {"x":28.6,"y":12.1},{"x":29.1,"y":15.2},{"x":28.7,"y":18.1},{"x":29.0,"y":21.2},{"x":28.5,"y":24.1},{"x":28.9,"y":27.2},{"x":29.2,"y":30.1},{"x":28.6,"y":33.2},{"x":29.0,"y":36.1},
  {"x":30.8,"y":14.2},{"x":30.4,"y":17.1},{"x":30.7,"y":20.2},{"x":30.3,"y":23.1},{"x":30.9,"y":26.2},{"x":30.5,"y":29.1},{"x":30.8,"y":32.2},{"x":30.4,"y":35.1},
  {"x":32.2,"y":15.1},{"x":32.7,"y":18.2},{"x":32.3,"y":21.1},{"x":32.6,"y":24.2},{"x":32.1,"y":27.1},{"x":32.5,"y":30.2},{"x":32.8,"y":33.1},{"x":32.2,"y":36.2},
  {"x":34.4,"y":16.2},{"x":34.0,"y":20.1},{"x":34.3,"y":23.2},{"x":33.9,"y":26.1},{"x":34.5,"y":29.2},{"x":34.1,"y":32.1},{"x":34.4,"y":35.2},
  {"x":36.2,"y":15.1},{"x":35.8,"y":19.2},{"x":36.1,"y":23.1},{"x":35.7,"y":26.2},{"x":36.3,"y":29.1},{"x":35.9,"y":32.2},{"x":36.2,"y":35.1},{"x":35.6,"y":38.2},
  {"x":37.6,"y":17.2},{"x":38.1,"y":21.1},{"x":37.7,"y":25.2},{"x":38.0,"y":28.1},{"x":37.5,"y":31.2},{"x":37.9,"y":34.1},{"x":38.2,"y":37.2},
  {"x":39.8,"y":19.1},{"x":39.4,"y":23.2},{"x":39.7,"y":27.1},{"x":39.3,"y":30.2},{"x":39.9,"y":33.1},{"x":39.5,"y":36.2},
  {"x":41.2,"y":21.2},{"x":41.7,"y":25.1},{"x":41.3,"y":28.2},{"x":41.6,"y":31.1},{"x":41.1,"y":34.2},
  {"x":43.4,"y":23.1},{"x":43.0,"y":26.2},{"x":43.3,"y":29.1},{"x":42.9,"y":32.2},{"x":43.5,"y":35.1},
  {"x":45.2,"y":25.2},{"x":44.8,"y":28.1},{"x":45.1,"y":31.2},{"x":44.7,"y":34.1},
  {"x":46.6,"y":27.1},{"x":47.1,"y":30.2},{"x":46.7,"y":33.1},{"x":47.0,"y":36.2},
  {"x":48.8,"y":31.2},{"x":48.4,"y":34.1},
  {"x":0.9,"y":2.0},{"x":1.1,"y":5.0},{"x":0.8,"y":8.2},
  {"x":2.6,"y":2.6},{"x":2.9,"y":5.6},{"x":2.5,"y":8.4},{"x":2.8,"y":11.0},
  {"x":4.4,"y":2.0},{"x":4.7,"y":5.2},{"x":4.3,"y":8.4},{"x":4.6,"y":11.4},{"x":4.5,"y":14.2},
  {"x":6.2,"y":2.8},{"x":6.5,"y":5.8},{"x":6.1,"y":8.8},{"x":6.4,"y":11.8},{"x":6.2,"y":14.8},
  {"x":8.0,"y":3.4},{"x":8.3,"y":6.6},{"x":7.9,"y":9.4},{"x":8.2,"y":12.4},{"x":8.0,"y":15.6},{"x":8.3,"y":18.4},
  {"x":9.8,"y":3.6},{"x":10.1,"y":6.8},{"x":9.7,"y":9.8},{"x":10.0,"y":12.8},{"x":9.8,"y":15.8},{"x":10.1,"y":18.8},
  {"x":11.6,"y":4.0},{"x":11.9,"y":7.2},{"x":11.5,"y":10.2},{"x":11.8,"y":13.2},{"x":11.6,"y":16.4},{"x":11.9,"y":19.4},
  {"x":13.4,"y":4.6},{"x":13.7,"y":7.6},{"x":13.3,"y":10.6},{"x":13.6,"y":13.8},{"x":13.4,"y":16.8},{"x":13.7,"y":19.8},{"x":13.5,"y":22.8},
  {"x":15.2,"y":5.2},{"x":15.5,"y":8.4},{"x":15.1,"y":11.4},{"x":15.4,"y":14.4},{"x":15.2,"y":17.4},{"x":15.5,"y":20.4},{"x":15.3,"y":23.4},
  {"x":17.0,"y":6.0},{"x":17.3,"y":9.0},{"x":16.9,"y":12.0},{"x":17.2,"y":15.0},{"x":17.0,"y":18.2},{"x":17.3,"y":21.2},{"x":17.1,"y":24.2},{"x":17.2,"y":27.4},
  {"x":18.8,"y":7.0},{"x":19.1,"y":10.0},{"x":18.7,"y":13.0},{"x":19.0,"y":16.2},{"x":18.8,"y":19.2},{"x":19.1,"y":22.2},{"x":18.9,"y":25.2},{"x":19.0,"y":28.2},
  {"x":20.6,"y":8.0},{"x":20.9,"y":11.0},{"x":20.5,"y":14.0},{"x":20.8,"y":17.2},{"x":20.6,"y":20.2},{"x":20.9,"y":23.2},{"x":20.7,"y":26.2},{"x":20.8,"y":29.2},{"x":20.6,"y":32.4},
  {"x":22.4,"y":6.6},{"x":22.7,"y":9.6},{"x":22.3,"y":12.6},{"x":22.6,"y":15.6},{"x":22.4,"y":18.6},{"x":22.7,"y":21.6},{"x":22.5,"y":24.6},{"x":22.6,"y":27.6},{"x":22.3,"y":30.6},{"x":22.6,"y":33.6},
  {"x":24.2,"y":6.0},{"x":24.5,"y":9.2},{"x":24.1,"y":12.2},{"x":24.4,"y":15.2},{"x":24.2,"y":18.2},{"x":24.5,"y":21.2},{"x":24.3,"y":24.2},{"x":24.4,"y":27.2},{"x":24.1,"y":30.2},{"x":24.4,"y":33.2},{"x":24.2,"y":36.0},
  {"x":26.0,"y":7.6},{"x":26.3,"y":10.6},{"x":25.9,"y":13.6},{"x":26.2,"y":16.6},{"x":26.0,"y":19.6},{"x":26.3,"y":22.6},{"x":26.1,"y":25.6},{"x":26.2,"y":28.6},{"x":25.9,"y":31.6},{"x":26.2,"y":34.6},{"x":26.0,"y":37.8},
  {"x":27.8,"y":10.6},{"x":28.1,"y":13.6},{"x":27.7,"y":16.6},{"x":28.0,"y":19.6},{"x":27.8,"y":22.6},{"x":28.1,"y":25.6},{"x":27.9,"y":28.6},{"x":28.0,"y":31.6},{"x":27.7,"y":34.6},{"x":28.0,"y":37.6},
  {"x":29.6,"y":13.2},{"x":29.9,"y":16.6},{"x":29.5,"y":19.6},{"x":29.8,"y":22.6},{"x":29.6,"y":25.6},{"x":29.9,"y":28.6},{"x":29.7,"y":31.6},{"x":29.8,"y":34.6},
  {"x":31.4,"y":14.6},{"x":31.7,"y":17.6},{"x":31.3,"y":20.6},{"x":31.6,"y":23.6},{"x":31.4,"y":26.6},{"x":31.7,"y":29.6},{"x":31.5,"y":32.6},{"x":31.6,"y":35.6},
  {"x":33.2,"y":15.6},{"x":33.5,"y":18.6},{"x":33.1,"y":21.6},{"x":33.4,"y":24.6},{"x":33.2,"y":27.6},{"x":33.5,"y":30.6},{"x":33.3,"y":33.6},
  {"x":35.0,"y":15.6},{"x":35.3,"y":19.6},{"x":34.9,"y":23.0},{"x":35.2,"y":26.6},{"x":35.0,"y":29.6},{"x":35.3,"y":32.6},{"x":35.1,"y":35.8},
  {"x":36.8,"y":16.6},{"x":37.1,"y":20.6},{"x":36.7,"y":24.4},{"x":37.0,"y":27.6},{"x":36.8,"y":30.6},{"x":37.1,"y":33.6},{"x":36.9,"y":36.6},
  {"x":38.6,"y":18.2},{"x":38.9,"y":22.0},{"x":38.5,"y":26.0},{"x":38.8,"y":29.2},{"x":38.6,"y":32.6},{"x":38.9,"y":35.6},
  {"x":40.4,"y":20.0},{"x":40.7,"y":24.0},{"x":40.3,"y":27.6},{"x":40.6,"y":30.6},{"x":40.4,"y":33.6},
  {"x":42.2,"y":22.0},{"x":42.5,"y":25.6},{"x":42.1,"y":28.6},{"x":42.4,"y":31.6},{"x":42.2,"y":34.6},
  {"x":44.0,"y":24.0},{"x":44.3,"y":27.6},{"x":43.9,"y":30.6},{"x":44.2,"y":33.6},
  {"x":45.8,"y":26.0},{"x":46.1,"y":29.6},{"x":45.7,"y":32.6},{"x":46.0,"y":35.2},
  {"x":22.0,"y":3.0},{"x":24.5,"y":2.2},{"x":26.2,"y":3.1},{"x":30.1,"y":8.2},{"x":32.2,"y":10.3},{"x":35.1,"y":12.1},{"x":38.2,"y":14.0},{"x":40.3,"y":15.2},{"x":42.1,"y":18.1},{"x":44.2,"y":20.3},{"x":46.1,"y":22.2},{"x":48.2,"y":26.1},{"x":25.8,"y":4.8},
  {"x":61.3,"y":94.2},{"x":73.2,"y":74.9},{"x":79.0,"y":72.9},{"x":82.8,"y":63.6},{"x":59.7,"y":65.0},{"x":58.7,"y":61.4},{"x":60.1,"y":61.4},{"x":52.7,"y":63.3},{"x":27.1,"y":77.5},{"x":22.0,"y":70.5},{"x":25.3,"y":65.7},{"x":14.0,"y":62.7},{"x":31.2,"y":63.0},{"x":37.0,"y":60.7},{"x":33.4,"y":57.1},{"x":33.9,"y":56.4},{"x":28.9,"y":57.8},{"x":22.3,"y":52.8},{"x":41.7,"y":54.0},{"x":45.1,"y":54.0},{"x":52.2,"y":54.0},{"x":54.2,"y":55.0},{"x":52.7,"y":50.7},{"x":55.5,"y":51.7},{"x":49.6,"y":49.7},{"x":69.9,"y":47.5},{"x":87.1,"y":46.1},{"x":92.2,"y":44.2},{"x":99.2,"y":43.1},{"x":56.4,"y":45.4},{"x":54.0,"y":43.8},{"x":50.3,"y":43.5},{"x":45.6,"y":44.2},{"x":47.1,"y":44.9},{"x":42.8,"y":43.9},{"x":37.7,"y":47.8},{"x":40.8,"y":47.1},{"x":28.4,"y":47.1},{"x":29.4,"y":46.9},{"x":23.8,"y":47.8},{"x":24.1,"y":46.1},{"x":57.5,"y":34.9},{"x":58.7,"y":32.7},{"x":62.0,"y":26.3},{"x":64.8,"y":24.1},{"x":71.6,"y":20.5},{"x":56.7,"y":12.2},{"x":74.2,"y":11.9},{"x":75.7,"y":5.9},{"x":105.3,"y":11.5},{"x":45.1,"y":13.3},{"x":45.8,"y":11.9},{"x":41.7,"y":4.7},{"x":38.7,"y":6.2},{"x":31.2,"y":6.9},{"x":29.2,"y":5.7},{"x":40.0,"y":14.1},{"x":36.5,"y":10.5},{"x":33.2,"y":11.2},{"x":10.6,"y":36.0},{"x":11.2,"y":35.2},{"x":16.7,"y":33.2},{"x":19.9,"y":39.2},{"x":1.5,"y":26.6},{"x":1.5,"y":24.1},{"x":1.0,"y":19.4},{"x":5.3,"y":28.4},{"x":6.6,"y":24.8},{"x":8.6,"y":25.5},{"x":10.1,"y":24.8},{"x":14.2,"y":27.0},{"x":9.9,"y":30.9},{"x":12.9,"y":32.0}
 ],
 "trend": [
  {"panel":1,"x":0,"y":2.2},{"panel":1,"x":100.8,"y":43.5},
  {"panel":2,"x":0,"y":2.0},{"panel":2,"x":101.8,"y":35.1},
  {"panel":3,"x":0,"y":2.4},{"panel":3,"x":120,"y":87.2},
  {"panel":4,"x":0,"y":1.4},{"panel":4,"x":120,"y":90.8}
 ],
 "r2": [
  {"panel":1,"x":106.3,"y":26.4,"label":"R² = 0,3493"},
  {"panel":2,"x":103.7,"y":23.5,"label":"R² = 0,2749"},
  {"panel":3,"x":87.6,"y":99.3,"label":"R² = 0,6962"},
  {"panel":4,"x":90.9,"y":100.0,"label":"R² = 0,7325"}
 ]
},
"spacing": 41,
"vconcat": [
 {"spacing": 57, "hconcat": [
  {"width": 448, "height": 280, "title": {"text": "محطة ايت تمليل", "subtitle": "GARDENIA (2000- 2016)"},
   "layer": [
    {"data": {"name": "p1"}, "mark": {"type": "point", "shape": "M-1,0L1,0M0,-1L0,1", "filled": false, "size": 81, "strokeWidth": 2.4, "color": "#7030a0", "opacity": 1},
     "encoding": {"x": {"field": "x", "type": "quantitative", "scale": {"domain": [0, 120], "nice": false}, "axis": {"values": [0,20,40,60,80,100,120], "tickCount": 7, "title": "الصبيب المقيس م³/ث"}},
                  "y": {"field": "y", "type": "quantitative", "scale": {"domain": [0, 50], "nice": false}, "axis": {"values": [0,10,20,30,40,50], "tickCount": 6, "title": "الصبيب المحاكي م³/ث"}}}},
    {"data": {"name": "trend"}, "transform": [{"filter": "datum.panel == 1"}], "mark": {"type": "line", "color": "#4472c4", "strokeDash": [2, 3], "strokeWidth": 2.2},
     "encoding": {"x": {"field": "x", "type": "quantitative"}, "y": {"field": "y", "type": "quantitative"}}},
    {"data": {"name": "r2"}, "transform": [{"filter": "datum.panel == 1"}], "mark": {"type": "text", "font": "Lato", "fontSize": 20, "fontWeight": "bold", "color": "#000"},
     "encoding": {"x": {"field": "x", "type": "quantitative"}, "y": {"field": "y", "type": "quantitative"}, "text": {"field": "label"}}}
   ]},
  {"width": 458, "height": 280, "title": {"text": "محطة ايت تمليل", "subtitle": "GR4J (2000- 2016)"},
   "layer": [
    {"data": {"name": "p2"}, "mark": {"type": "point", "shape": "M-1,0L1,0M0,-1L0,1", "filled": false, "size": 81, "strokeWidth": 2.4, "color": "#7030a0", "opacity": 1},
     "encoding": {"x": {"field": "x", "type": "quantitative", "scale": {"domain": [0, 120], "nice": false}, "axis": {"values": [0,20,40,60,80,100,120], "tickCount": 7, "title": "الصبيب المقيس م³/ث"}},
                  "y": {"field": "y", "type": "quantitative", "scale": {"domain": [0, 45], "nice": false}, "axis": {"values": [0,5,10,15,20,25,30,35,40,45], "tickCount": 10, "title": "الصبيب المحاكي م³/ث"}}}},
    {"data": {"name": "trend"}, "transform": [{"filter": "datum.panel == 2"}], "mark": {"type": "line", "color": "#4472c4", "strokeDash": [2, 3], "strokeWidth": 2.2},
     "encoding": {"x": {"field": "x", "type": "quantitative"}, "y": {"field": "y", "type": "quantitative"}}},
    {"data": {"name": "r2"}, "transform": [{"filter": "datum.panel == 2"}], "mark": {"type": "text", "font": "Lato", "fontSize": 20, "fontWeight": "bold", "color": "#000"},
     "encoding": {"x": {"field": "x", "type": "quantitative"}, "y": {"field": "y", "type": "quantitative"}, "text": {"field": "label"}}}
   ]}
 ]},
 {"spacing": 57, "hconcat": [
  {"width": 448, "height": 278, "title": {"text": "محطة تمسماط", "subtitle": "GARDENIA (2000- 2016)"},
   "layer": [
    {"data": {"name": "p3"}, "mark": {"type": "point", "shape": "M-1,0L1,0M0,-1L0,1", "filled": false, "size": 81, "strokeWidth": 2.4, "color": "#7030a0", "opacity": 1},
     "encoding": {"x": {"field": "x", "type": "quantitative", "scale": {"domain": [0, 120], "nice": false}, "axis": {"values": [0,20,40,60,80,100,120], "tickCount": 7, "title": "الصبيب المقيس م³/ث"}},
                  "y": {"field": "y", "type": "quantitative", "scale": {"domain": [0, 120], "nice": false}, "axis": {"values": [0,20,40,60,80,100,120], "tickCount": 7, "title": "الصبيب المحاكي م³/ث"}}}},
    {"data": {"name": "trend"}, "transform": [{"filter": "datum.panel == 3"}], "mark": {"type": "line", "color": "#4472c4", "strokeDash": [2, 3], "strokeWidth": 2.2},
     "encoding": {"x": {"field": "x", "type": "quantitative"}, "y": {"field": "y", "type": "quantitative"}}},
    {"data": {"name": "r2"}, "transform": [{"filter": "datum.panel == 3"}], "mark": {"type": "text", "font": "Lato", "fontSize": 20, "fontWeight": "bold", "color": "#000"},
     "encoding": {"x": {"field": "x", "type": "quantitative"}, "y": {"field": "y", "type": "quantitative"}, "text": {"field": "label"}}}
   ]},
  {"width": 458, "height": 277, "title": {"text": "محطة تمسماط", "subtitle": "GR4J (2000- 2016)"},
   "layer": [
    {"data": {"name": "p4"}, "mark": {"type": "point", "shape": "M-1,0L1,0M0,-1L0,1", "filled": false, "size": 81, "strokeWidth": 2.4, "color": "#7030a0", "opacity": 1},
     "encoding": {"x": {"field": "x", "type": "quantitative", "scale": {"domain": [0, 120], "nice": false}, "axis": {"values": [0,20,40,60,80,100,120], "tickCount": 7, "title": "الصبيب المقيس م³/ث"}},
                  "y": {"field": "y", "type": "quantitative", "scale": {"domain": [0, 120], "nice": false}, "axis": {"values": [0,20,40,60,80,100,120], "tickCount": 7, "title": "الصبيب المحاكي م³/ث"}}}},
    {"data": {"name": "trend"}, "transform": [{"filter": "datum.panel == 4"}], "mark": {"type": "line", "color": "#4472c4", "strokeDash": [2, 3], "strokeWidth": 2.2},
     "encoding": {"x": {"field": "x", "type": "quantitative"}, "y": {"field": "y", "type": "quantitative"}}},
    {"data": {"name": "r2"}, "transform": [{"filter": "datum.panel == 4"}], "mark": {"type": "text", "font": "Lato", "fontSize": 20, "fontWeight": "bold", "color": "#000"},
     "encoding": {"x": {"field": "x", "type": "quantitative"}, "y": {"field": "y", "type": "quantitative"}, "text": {"field": "label"}}}
   ]}
 ]}
]
}
